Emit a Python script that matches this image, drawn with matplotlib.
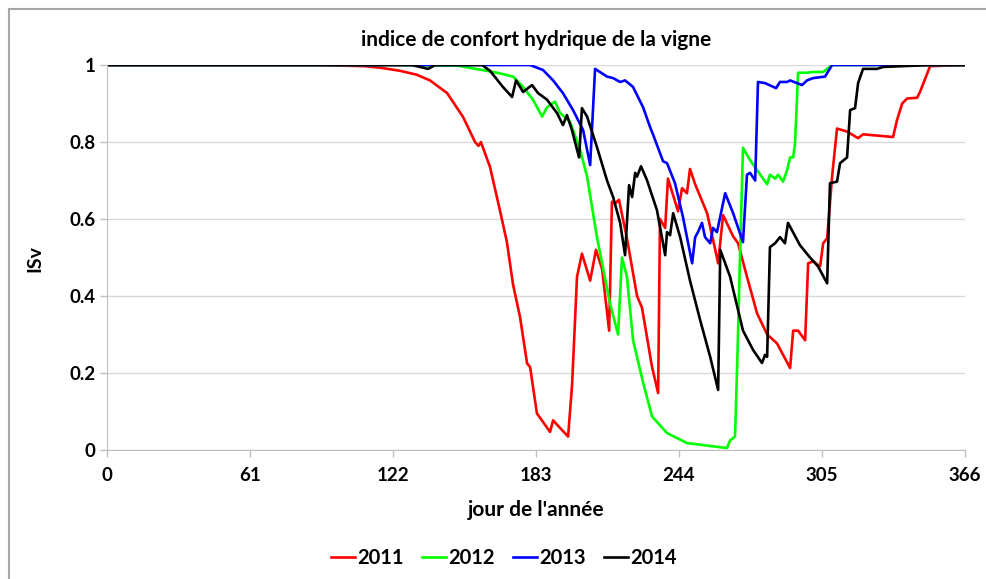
import matplotlib
matplotlib.use("Agg")
import matplotlib.pyplot as plt
from matplotlib.patches import Rectangle

plt.rcParams['font.family'] = ['Lato', 'DejaVu Sans']
plt.rcParams['font.weight'] = 'bold'

# jour de l'annee / ISv
day_2011 = [0, 90, 110, 116.5, 125, 132, 137.8, 145.1, 151.9, 157.0, 158.5, 159.5, 163.4, 167.7,
            170.6, 173.2, 176.2, 179.2, 180.5, 183.4, 189.0, 190.3, 193.3, 196.7, 198.4, 200.5,
            202.6, 206.1, 208.6, 211.2, 214.2, 215.4, 216.7, 218.4, 221.8, 226.1, 228.2, 232.5,
            235.1, 235.9, 238.1, 239.3, 243.6, 245.3, 247.4, 248.7, 250.9, 256.0, 260.2, 260.7,
            262.8, 267.1, 269.2, 273.0, 277.3, 281.6, 285.8, 291.4, 292.7, 294.8, 297.8, 299.1,
            301.2, 304.2, 305.5, 307.2, 309.3, 311.4, 315.7, 320.4, 322.5, 335.3, 337.0, 339.2,
            341.3, 345.6, 346.8, 351.1, 366]
isv_2011 = [1.0, 1.0, 0.997, 0.993, 0.985, 0.975, 0.96, 0.927, 0.865, 0.80, 0.79, 0.80, 0.735, 0.62,
            0.54, 0.43, 0.345, 0.225, 0.215, 0.095, 0.047, 0.077, 0.057, 0.035, 0.17, 0.45,
            0.51, 0.44, 0.52, 0.47, 0.31, 0.645, 0.64, 0.65, 0.55, 0.40, 0.37, 0.216,
            0.148, 0.60, 0.577, 0.705, 0.62, 0.68, 0.667, 0.73, 0.69, 0.615, 0.50, 0.485,
            0.61, 0.555, 0.537, 0.45, 0.355, 0.30, 0.277, 0.213, 0.31, 0.31, 0.285, 0.485,
            0.49, 0.477, 0.537, 0.55, 0.71, 0.835, 0.827, 0.81, 0.82, 0.813, 0.857, 0.90,
            0.913, 0.915, 0.93, 0.997, 1.0]

day_2012 = [0, 120, 150, 166.4, 173.2, 177.5, 181.7, 185.6, 187.7, 191.1, 193.3, 197.5, 201.8,
            204.8, 209.0, 214.6, 218.0, 219.7, 221.8, 224.4, 228.7, 232.5, 238.9, 247.4, 264.5,
            265.8, 267.9, 268.8, 270.1, 271.3, 274.3, 277.3, 281.6, 282.8, 285.0, 286.3, 288.4,
            290.1, 291.4, 292.7, 293.5, 294.8, 298.6, 301.2, 305.5, 309.3, 366]
isv_2012 = [1.0, 1.0, 0.998, 0.98, 0.97, 0.943, 0.91, 0.866, 0.89, 0.905, 0.875, 0.853, 0.78,
            0.71, 0.553, 0.38, 0.30, 0.50, 0.45, 0.285, 0.175, 0.087, 0.044, 0.018, 0.005,
            0.025, 0.035, 0.215, 0.52, 0.785, 0.753, 0.727, 0.69, 0.715, 0.705, 0.715, 0.697,
            0.727, 0.76, 0.76, 0.797, 0.98, 0.98, 0.982, 0.982, 1.0, 1.0]

day_2013 = [0, 180.5, 186.0, 190.3, 194.5, 198.8, 203.1, 206.1, 208.2, 213.3, 215.9, 218.9, 221.0,
            224.4, 228.7, 231.6, 232.9, 237.2, 238.9, 242.3, 245.7, 249.6, 250.9, 252.1, 253.8,
            255.1, 257.3, 258.5, 260.2, 263.7, 267.1, 271.3, 273.0, 274.3, 276.5, 277.7, 280.7,
            285.4, 287.1, 290.1, 291.4, 296.5, 298.6, 301.2, 306.3, 309.3, 366]
isv_2013 = [1.0, 1.0, 0.987, 0.96, 0.927, 0.883, 0.831, 0.74, 0.99, 0.97, 0.966, 0.956, 0.96,
            0.943, 0.89, 0.84, 0.82, 0.75, 0.745, 0.693, 0.605, 0.485, 0.553, 0.566, 0.59,
            0.553, 0.537, 0.577, 0.566, 0.667, 0.615, 0.54, 0.715, 0.72, 0.70, 0.956, 0.953,
            0.94, 0.956, 0.956, 0.96, 0.948, 0.96, 0.966, 0.97, 1.0, 1.0]

day_2014 = [0, 130, 137, 140, 160, 163.4, 168.9, 172.8, 174.5, 177.5, 181.3, 183.9, 187.7, 192.0,
            194.5, 196.2, 198.4, 200.5, 201.4, 202.6, 204.8, 209.0, 213.3, 215.9, 218.9, 221.0,
            222.7, 224.0, 225.3, 226.1, 227.8, 230.4, 234.6, 238.1, 238.9, 240.2, 241.5, 244.5,
            248.7, 253.0, 257.3, 260.7, 261.6, 265.8, 271.3, 275.6, 279.4, 280.7, 281.6, 282.8,
            285.0, 287.1, 289.2, 290.5, 295.6, 299.9, 303.3, 307.2, 308.4, 311.4, 312.7, 315.7,
            317.0, 319.1, 320.4, 322.5, 328.5, 331.1, 351.1, 366]
isv_2014 = [1.0, 1.0, 0.99, 1.0, 1.0, 0.985, 0.943, 0.917, 0.96, 0.93, 0.948, 0.927, 0.91, 0.875,
            0.844, 0.87, 0.83, 0.78, 0.76, 0.888, 0.866, 0.787, 0.70, 0.657, 0.59, 0.506,
            0.688, 0.657, 0.72, 0.71, 0.737, 0.70, 0.623, 0.506, 0.566, 0.558, 0.615, 0.553,
            0.44, 0.338, 0.242, 0.156, 0.52, 0.45, 0.31, 0.26, 0.226, 0.247, 0.242, 0.527,
            0.537, 0.553, 0.537, 0.59, 0.532, 0.50, 0.477, 0.433, 0.693, 0.697, 0.745, 0.76,
            0.883, 0.888, 0.953, 0.99, 0.99, 0.995, 1.0, 1.0]

x_ticks = [0, 61, 122, 183, 244, 305, 366]
y_ticks = [0, 0.2, 0.4, 0.6, 0.8, 1.0]
y_tick_labels = ['0', '0.2', '0.4', '0.6', '0.8', '1']

fig = plt.figure(figsize=(9.86, 5.79), dpi=100)
ax = fig.add_axes([0.1085, 0.2228, 0.8702, 0.6649])

ax.plot(day_2011, isv_2011, color='#ff0000', lw=1.9, label='2011')
ax.plot(day_2012, isv_2012, color='#00ff00', lw=1.9, label='2012')
ax.plot(day_2013, isv_2013, color='#0000ff', lw=1.9, label='2013')
ax.plot(day_2014, isv_2014, color='#000000', lw=1.9, label='2014')

ax.set_xlim(0, 366)
ax.set_ylim(0, 1)
ax.set_xticks(x_ticks)
ax.set_yticks(y_ticks)
ax.set_yticklabels(y_tick_labels)
ax.tick_params(axis='both', labelsize=13.5, colors='#bfbfbf', labelcolor='black', length=5, width=1)
ax.tick_params(axis='x', pad=7)
ax.grid(axis='y', color='#d9d9d9', lw=1)
ax.set_axisbelow(True)
for s in ['top', 'right']:
    ax.spines[s].set_visible(False)
for s in ['left', 'bottom']:
    ax.spines[s].set_color('#bfbfbf')

fig.text(0.5436, 0.931, "indice de confort hydrique de la vigne", ha='center', va='center', fontsize=15)
fig.text(0.5436, 0.119, "jour de l'année", ha='center', va='center', fontsize=15)
fig.text(0.0355, 0.554, "ISv", ha='center', va='center', rotation=90, fontsize=14)

fig.legend(loc='center', bbox_to_anchor=(0.511, 0.036), ncol=4, frameon=False, fontsize=14.5,
           handlelength=1.2, handletextpad=0.1, columnspacing=0.9)

fig.patches.append(Rectangle((0.0091, -0.5), 2.0, 1.4845, transform=fig.transFigure,
                             fill=False, edgecolor='#a6a6a6', lw=1.5))

fig.savefig('out.png', dpi=100)
